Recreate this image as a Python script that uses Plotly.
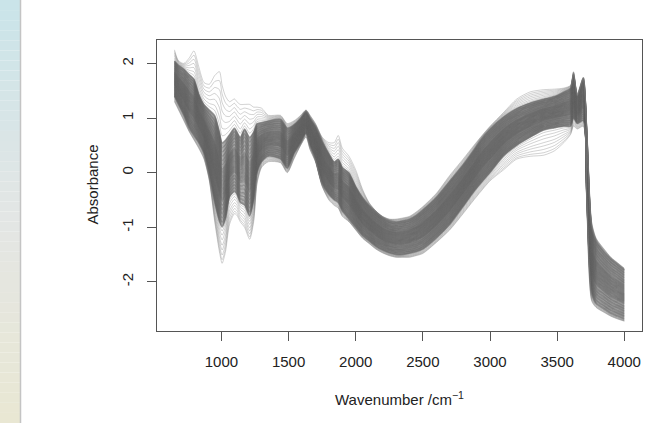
import plotly.graph_objects as go

# ---- data ----
wavenumber = [650, 680, 720, 760, 795, 830, 870, 910, 950, 985, 1005, 1030, 1060, 1097, 1115,
              1140, 1172, 1210, 1240, 1265, 1300, 1350, 1440, 1490, 1540, 1590, 1630, 1660, 1700,
              1750, 1800, 1840, 1870, 1900, 1950, 2000, 2050, 2100, 2150, 2200, 2250, 2300, 2350,
              2400, 2450, 2500, 2600, 2700, 2800, 2880, 2930, 3000, 3100, 3200, 3300, 3400, 3480,
              3550, 3600, 3622, 3650, 3695, 3720, 3757, 3790, 3850, 3900, 3950, 4000]

# extreme upper spectra
outer_high = [2.25, 2.05, 2.0, 2.1, 2.23, 1.95, 1.65, 1.62, 1.78, 1.85, 1.6, 1.4, 1.3, 1.35, 1.3,
              1.25, 1.25, 1.25, 1.2, 1.2, 1.18, 1.05, 1.05, 0.9, 0.95, 1.05, 1.15, 1.05, 0.9,
              0.65, 0.55, 0.55, 0.68, 0.45, 0.3, 0.05, -0.3, -0.55, -0.7, -0.8, -0.85, -0.85, -0.83,
              -0.8, -0.72, -0.62, -0.38, -0.05, 0.25, 0.5, 0.65, 0.85, 1.1, 1.35, 1.48, 1.52, 1.53,
              1.55, 1.6, 1.85, 1.45, 1.75, 0.9, -0.9, -1.2, -1.4, -1.55, -1.65, -1.75]
# upper edge of the dense band
core_high = [2.05, 1.97, 1.9, 1.8, 1.72, 1.45, 1.25, 1.15, 1.05, 0.75, 0.55, 0.6, 0.7, 0.82, 0.75,
             0.65, 0.8, 0.65, 0.75, 0.9, 0.92, 0.95, 0.98, 0.82, 0.88, 1.0, 1.12, 1.0, 0.85,
             0.58, 0.35, 0.2, 0.25, 0.1, 0.0, -0.25, -0.45, -0.6, -0.72, -0.82, -0.88, -0.9, -0.88,
             -0.85, -0.78, -0.68, -0.45, -0.15, 0.15, 0.42, 0.6, 0.8, 1.02, 1.18, 1.28, 1.35, 1.4,
             1.48, 1.55, 1.8, 1.4, 1.72, 0.8, -1.0, -1.25, -1.45, -1.58, -1.68, -1.78]
# lower edge of the dense band
core_low = [1.4, 1.25, 1.05, 0.82, 0.68, 0.55, 0.35, -0.05, -0.55, -0.9, -1.0, -0.85, -0.45, -0.35, -0.4,
            -0.55, -0.6, -0.8, -0.5, 0.0, 0.2, 0.3, 0.25, 0.08, 0.35, 0.55, 0.72, 0.5, 0.25,
            -0.2, -0.4, -0.5, -0.55, -0.7, -0.85, -1.0, -1.15, -1.25, -1.35, -1.42, -1.47, -1.5, -1.5,
            -1.48, -1.45, -1.4, -1.2, -0.95, -0.62, -0.35, -0.2, 0.0, 0.3, 0.5, 0.65, 0.78, 0.82,
            0.85, 0.85, 1.0, 0.9, 0.95, -0.4, -2.2, -2.4, -2.5, -2.58, -2.63, -2.68]
# extreme lower spectra
outer_low = [1.3, 1.15, 0.95, 0.75, 0.6, 0.45, 0.25, -0.15, -0.9, -1.45, -1.66, -1.45, -0.95, -0.75, -0.78,
             -0.9, -1.0, -1.22, -0.9, -0.2, 0.1, 0.2, 0.18, 0.0, 0.25, 0.5, 0.65, 0.42, 0.2,
             -0.25, -0.5, -0.6, -0.65, -0.8, -0.9, -1.05, -1.2, -1.3, -1.4, -1.47, -1.52, -1.55, -1.55,
             -1.55, -1.52, -1.48, -1.28, -1.05, -0.75, -0.5, -0.35, -0.15, 0.05, 0.25, 0.3, 0.32, 0.4,
             0.55, 0.7, 0.85, 0.8, 0.85, -0.55, -2.35, -2.47, -2.56, -2.63, -2.68, -2.72]

# position of each spectrum within the band: 0..1 dense band, >1 above it, <0 below it
sample_position = [0.0, 0.01, 0.02, 0.035, 0.05, 0.06, 0.07, 0.085, 0.1, 0.11, 0.12, 0.135,
                   0.15, 0.16, 0.17, 0.185, 0.2, 0.21, 0.22, 0.235, 0.25, 0.26, 0.27, 0.285,
                   0.3, 0.31, 0.32, 0.33, 0.34, 0.35, 0.36, 0.37, 0.38, 0.39, 0.4, 0.41,
                   0.42, 0.43, 0.44, 0.45, 0.46, 0.47, 0.48, 0.49, 0.5, 0.51, 0.52, 0.53,
                   0.54, 0.55, 0.56, 0.57, 0.58, 0.59, 0.6, 0.61, 0.62, 0.63, 0.64, 0.65,
                   0.66, 0.67, 0.68, 0.69, 0.7, 0.715, 0.73, 0.74, 0.75, 0.765, 0.78, 0.79,
                   0.8, 0.815, 0.83, 0.84, 0.85, 0.865, 0.88, 0.89, 0.9, 0.915, 0.93, 0.94,
                   0.95, 0.965, 0.98, 0.99, 1.0,
                   1.12, 1.25, 1.4, 1.55, 1.7, 1.85, 2.0,
                   -0.1, -0.22, -0.35, -0.5, -0.63, -0.77, -0.9, -1.0]

x_ticks = [1000, 1500, 2000, 2500, 3000, 3500, 4000]
y_ticks = [2, 1, 0, -1, -2]


def spectrum(t):
    out = []
    for oh, ch, cl, ol in zip(outer_high, core_high, core_low, outer_low):
        if t > 1:
            out.append(ch + (t - 1) * (oh - ch))
        elif t < 0:
            out.append(cl + t * (cl - ol))
        else:
            out.append(cl + t * (ch - cl))
    return out


fig = go.Figure()
for t in sample_position:
    core = 0 <= t <= 1
    col = "rgba(100,100,100,0.5)" if core else "rgba(115,115,115,0.32)"
    fig.add_trace(go.Scatter(
        x=wavenumber, y=spectrum(t), mode="lines",
        line=dict(color=col, width=1.3 if core else 1, shape="spline", smoothing=0.7),
        hoverinfo="skip", showlegend=False))

W, H = 665, 423
L, R, T, B = 157, 23, 40, 92
pw, ph = W - L - R, H - T - B


def pxx(p):
    return (p - L) / pw


def pxy(p):
    return (H - B - p) / ph


shapes = []
steps = 42
top_c = (201, 228, 233)
mid_c = (227, 230, 229)
bot_c = (233, 231, 211)
for i in range(steps):
    f = (i + 0.5) / steps
    if f < 0.5:
        a, b, g = top_c, mid_c, f / 0.5
    else:
        a, b, g = mid_c, bot_c, (f - 0.5) / 0.5
    c = tuple(int(round(a[k] + (b[k] - a[k]) * g)) for k in range(3))
    shapes.append(dict(type="rect", xref="paper", yref="paper",
                       x0=pxx(0), x1=pxx(20), y0=pxy(H * (i + 1) / steps), y1=pxy(H * i / steps),
                       line=dict(width=0), fillcolor="rgb(%d,%d,%d)" % c, layer="below"))
shapes.append(dict(type="line", xref="paper", yref="paper", x0=pxx(20.5), x1=pxx(20.5),
                   y0=pxy(H), y1=pxy(0), line=dict(color="#c4c4c4", width=1.5)))

axis_common = dict(showline=True, mirror=True, linecolor="#555555", linewidth=1,
                   ticks="outside", ticklen=9, tickcolor="#555555", tickwidth=1,
                   showgrid=False, zeroline=False,
                   tickfont=dict(family="Liberation Sans, Arial, sans-serif", size=15, color="#222222"))

fig.update_layout(
    width=W, height=H, autosize=False,
    margin=dict(l=L, r=R, t=T, b=B),
    paper_bgcolor="white", plot_bgcolor="white",
    shapes=shapes,
    xaxis=dict(range=[520, 4132], tickvals=x_ticks, ticktext=[str(v) for v in x_ticks],
               ticklabelstandoff=8, **axis_common),
    yaxis=dict(range=[-2.90, 2.43], tickvals=y_ticks, ticktext=[str(v) for v in y_ticks],
               tickangle=-90, ticklabelstandoff=8, **axis_common),
    annotations=[
        dict(text="Wavenumber /cm<sup>−1</sup>", xref="paper", yref="paper", x=0.5, y=pxy(398),
             xanchor="center", yanchor="middle", showarrow=False,
             font=dict(family="Liberation Sans, Arial, sans-serif", size=15, color="#222222")),
        dict(text="Absorbance", xref="paper", yref="paper", x=pxx(91.5), y=pxy(185),
             xanchor="center", yanchor="middle", textangle=-90, showarrow=False,
             font=dict(family="Liberation Sans, Arial, sans-serif", size=15, color="#222222")),
    ],
)

fig.write_html("out.html", config={"displayModeBar": False},
               post_script="document.body.style.margin='0px';document.body.style.overflow='hidden';")
